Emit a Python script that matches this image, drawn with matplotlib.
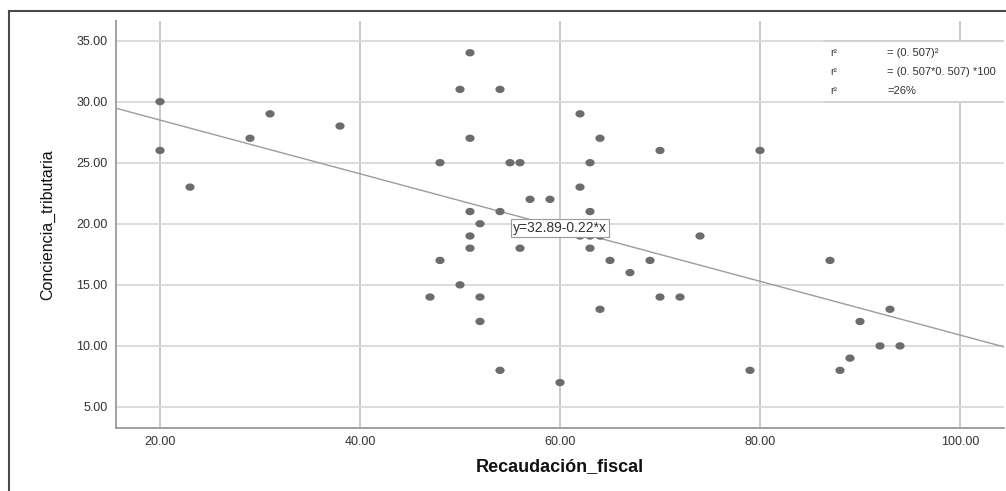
import matplotlib
matplotlib.use("Agg")
import matplotlib.pyplot as plt
from matplotlib.patches import Rectangle
from matplotlib.lines import Line2D
from matplotlib.path import Path
import numpy as np

plt.rcParams['font.family'] = ['Liberation Sans', 'DejaVu Sans']

# datos
recaudacion = [20, 20, 23, 29, 31, 38, 47, 48, 48, 50, 50, 51, 51, 51, 51, 51,
               52, 52, 52, 54, 54, 54, 55, 56, 56, 57, 59, 60, 62, 62, 62,
               63, 63, 63, 63, 64, 64, 64, 65, 67, 69, 70, 70, 72, 74, 79, 80,
               87, 88, 89, 90, 92, 93, 94]
conciencia = [30, 26, 23, 27, 29, 28, 14, 25, 17, 31, 15, 34, 27, 21, 19, 18,
              20, 14, 12, 31, 21, 8, 25, 25, 18, 22, 22, 7, 29, 23, 19,
              25, 21, 19, 18, 27, 19, 13, 17, 16, 17, 26, 14, 14, 19, 8, 26,
              17, 8, 9, 12, 10, 13, 10]

intercepto = 32.89
pendiente = -0.22
x_ticks = [20, 40, 60, 80, 100]
y_ticks = [5, 10, 15, 20, 25, 30, 35]
r2_lineas = ["= (0. 507)²", "= (0. 507*0. 507) *100", "=26%"]

fig = plt.figure(figsize=(10.06, 4.91), dpi=100)
ax = fig.add_axes([116 / 1006, 1 - 428 / 491, (1004 - 116) / 1006, (428 - 21) / 491])

xlim = (15.6, 104.4)
ylim = (3.28, 36.6)
ax.set_xlim(xlim)
ax.set_ylim(ylim)

ax.set_axisbelow(True)
ax.xaxis.grid(True, color='#c4c4c4', lw=1.3)
ax.yaxis.grid(True, color='#dadada', lw=1.3)

for s in ['top', 'right']:
    ax.spines[s].set_visible(False)
for s in ['left', 'bottom']:
    ax.spines[s].set_color('#9a9a9a')
    ax.spines[s].set_linewidth(1.3)

ax.set_xticks(x_ticks)
ax.set_yticks(y_ticks)
ax.set_xticklabels(["%.2f" % v for v in x_ticks])
ax.set_yticklabels(["%.2f" % v for v in y_ticks])
ax.tick_params(length=0, labelsize=9, colors='#333333', pad=6)

# puntos un poco ovalados como en SPSS
t = np.linspace(0, 2 * np.pi, 40)
ovalo = Path(np.column_stack([np.cos(t), 0.8 * np.sin(t)]))
ax.scatter(recaudacion, conciencia, s=44, marker=ovalo, color='#6c6c6c', edgecolors='none', zorder=3)

xs = np.array(xlim)
ax.plot(xs, intercepto + pendiente * xs, color='#9c9c9c', lw=1, zorder=2)

ax.text(60, 19.67, "y=32.89-0.22*x", ha='center', va='center', fontsize=10,
        color='#333333', zorder=5,
        bbox=dict(boxstyle='square,pad=0.15', fc='white', ec='#9a9a9a', lw=0.8))

# cuadro r2
ax.add_patch(Rectangle((86.3, 30), xlim[1] - 86.3, 5, fc='white', ec='none', zorder=1.5))
ax.hlines([30, 35], 86.3, xlim[1], color='#d0d0d0', lw=1.3, zorder=1.6)
for i, txt in enumerate(r2_lineas):
    yy = 34.0 - i * 1.55
    ax.text(87, yy, "r²", fontsize=7.5, color='#333333', va='center', zorder=4)
    ax.text(92.7, yy, txt, fontsize=8, color='#333333', va='center', zorder=4)

ax.set_xlabel("Recaudación_fiscal", fontsize=13, fontweight='bold', color='#111111', labelpad=7)
ax.set_ylabel("Conciencia_tributaria", fontsize=11.5, color='#111111', labelpad=15)

# marco exterior
fig.add_artist(Line2D([8.5 / 1006, 8.5 / 1006], [0, 1 - 10.5 / 491], transform=fig.transFigure,
                      color='#4a4a4a', lw=1.5))
fig.add_artist(Line2D([8.5 / 1006, 1], [1 - 10.5 / 491, 1 - 10.5 / 491], transform=fig.transFigure,
                      color='#4a4a4a', lw=1.5))

fig.savefig("out.png", dpi=100)
